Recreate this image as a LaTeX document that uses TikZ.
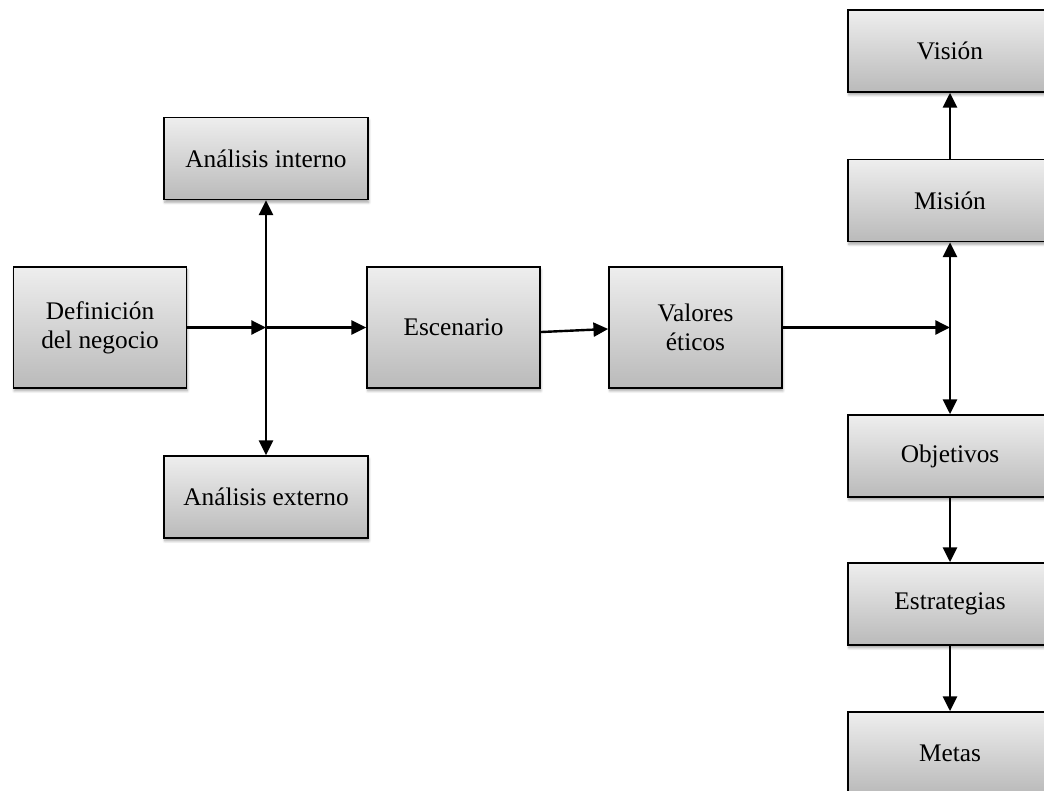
\documentclass[tikz,border=0pt]{standalone}
\usepackage{fontspec}
\setmainfont{Liberation Serif}
\usetikzlibrary{arrows.meta,shadows.blur}

\definecolor{boxtop}{RGB}{238,238,238}
\definecolor{boxbot}{RGB}{186,186,186}

\tikzset{
  box/.style={draw=black, line width=1.3pt, top color=boxtop, bottom color=boxbot,
    align=center, inner sep=2pt,
    font=\fontsize{19}{22}\selectfont,
    blur shadow={shadow xshift=0.6pt, shadow yshift=-2.2pt, shadow blur steps=6, shadow opacity=35}},
  bigbox/.style={box, minimum width=129.75pt, minimum height=90.75pt},
  smallbox/.style={box, minimum width=153pt, minimum height=61.5pt},
  arr/.style={line width=1.8pt, -{Triangle[length=11pt,width=10.5pt]}},
}

\begin{document}
\begin{tikzpicture}[x=0.75pt, y=-0.75pt]
  \useasboundingbox (0,0) rectangle (1044,791);
  \clip (0,0) rectangle (1044,791);

  % left part of the flow
  \node[bigbox] (def) at (100,327.5) {Definición\\del negocio};
  \node[smallbox] (aint) at (266,158.5) {Análisis interno};
  \node[smallbox] (aext) at (266,497) {Análisis externo};
  \node[bigbox] (esc) at (453.5,327.5) {Escenario};
  \node[bigbox] (val) at (695.5,327.5) {Valores\\éticos};

  % right column
  \node[smallbox] (vis) at (950,51) {Visión};
  \node[smallbox] (mis) at (950,200.5) {Misión};
  \node[smallbox] (obj) at (950,456) {Objetivos};
  \node[smallbox] (est) at (950,604) {Estrategias};
  \node[smallbox] (met) at (950,753) {Metas};

  % junction points
  \coordinate (j1) at (266,327.5);
  \coordinate (j2) at (950,327.5);

  % connectors
  \draw[arr] (def.east) -- (j1);
  \draw[arr] (j1) -- (esc.west);
  \draw[arr] (j1) -- (aint.south);
  \draw[arr] (j1) -- (aext.north);
  \draw[arr] ([yshift=-3.4pt]esc.east) -- ([yshift=-1.1pt]val.west);
  \draw[arr] (val.east) -- (j2);
  \draw[arr] (j2) -- (mis.south);
  \draw[arr] (j2) -- (obj.north);
  \draw[arr] (mis.north) -- (vis.south);
  \draw[arr] (obj.south) -- (est.north);
  \draw[arr] (est.south) -- (met.north);
\end{tikzpicture}
\end{document}
